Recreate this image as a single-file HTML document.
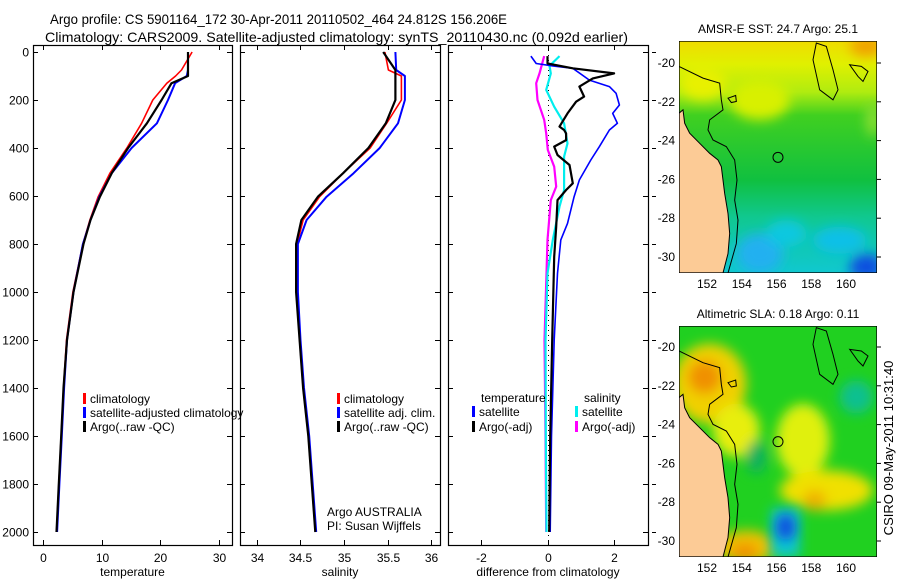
<!DOCTYPE html>
<html><head><meta charset="utf-8">
<style>
body{margin:0;background:#fff;}
#root{position:relative;width:900px;height:580px;overflow:hidden;font-family:"Liberation Sans",sans-serif;}
svg text{font-family:"Liberation Sans",sans-serif;}
</style></head>
<body>
<div id="root">
<svg id="main" width="900" height="580" viewBox="0 0 900 580">
<text x="50" y="24" font-size="14" textLength="457" lengthAdjust="spacingAndGlyphs">Argo profile: CS 5901164_172 30-Apr-2011 20110502_464 24.812S 156.206E</text>
<text x="45" y="42" font-size="14" textLength="583" lengthAdjust="spacingAndGlyphs">Climatology: CARS2009. Satellite-adjusted climatology: synTS_20110430.nc (0.092d earlier)</text>
<text transform="translate(893,448) rotate(-90)" text-anchor="middle" font-size="13">CSIRO 09-May-2011 10:31:40</text>
</svg>
<svg style="position:absolute;left:679px;top:41px" width="198" height="232" viewBox="58 124 594 694" preserveAspectRatio="none">
<defs>
<linearGradient id="g1" x1="0" y1="0" x2="0" y2="1">
<stop offset="0" stop-color="#f0dc00"/><stop offset="0.1" stop-color="#e0f000"/><stop offset="0.22" stop-color="#b0ec10"/><stop offset="0.32" stop-color="#40d020"/><stop offset="0.6" stop-color="#10c040"/><stop offset="0.76" stop-color="#10c890"/><stop offset="1" stop-color="#10c8d0"/></linearGradient>
<filter id="bl" x="-50%" y="-50%" width="200%" height="200%"><feGaussianBlur stdDeviation="18"/></filter>
<clipPath id="c1"><rect x="58" y="124" width="594" height="694"/></clipPath>
</defs>
<g clip-path="url(#c1)">
<rect x="58" y="124" width="594" height="694" fill="url(#g1)"/>
<g filter="url(#bl)">
<ellipse cx="620" cy="140" rx="50" ry="30" fill="#f0a000"/>
<ellipse cx="300" cy="300" rx="90" ry="60" fill="#d8f000"/>
<ellipse cx="130" cy="250" rx="70" ry="50" fill="#e8f000"/>
<ellipse cx="300" cy="760" rx="70" ry="60" fill="#20b0f0"/>
<ellipse cx="380" cy="700" rx="60" ry="40" fill="#10c8e0"/>
<ellipse cx="620" cy="800" rx="50" ry="40" fill="#1050e0"/>
<ellipse cx="540" cy="720" rx="80" ry="40" fill="#10c0e8"/>
<ellipse cx="640" cy="360" rx="20" ry="50" fill="#90e030"/>
</g>
<path d="M58,340 L70,330 L75,370 L90,400 L120,430 L150,460 L175,480 L185,500 L190,540 L195,580 L205,640 L210,700 L205,760 L190,818 L58,818 Z" fill="#fccb96" stroke="#000" stroke-width="3"/>
<path d="M58,200 L130,235 L180,250 L185,300 L190,330 L150,360 L145,390 L160,420 L200,440 L225,480 L232,540 L225,600 L235,660 L230,730 L205,818" fill="none" stroke="#000" stroke-width="3"/>
<path d="M470,130 L460,180 L480,270 L520,300 L535,270 L520,210 L500,140 Z" fill="none" stroke="#000" stroke-width="3"/>
<path d="M570,195 L605,200 L625,215 L610,245 L595,230 Z" fill="none" stroke="#000" stroke-width="3"/>
<path d="M205,295 L228,287 L230,305 L215,308 Z" fill="none" stroke="#000" stroke-width="3"/>
<circle cx="355" cy="472" r="15" fill="none" stroke="#000" stroke-width="3"/>
</g>
<rect x="58" y="124" width="594" height="694" fill="none" stroke="#000" stroke-width="4"/>
</svg>
<svg style="position:absolute;left:679px;top:326px" width="198" height="231" viewBox="58 107 594 693" preserveAspectRatio="none">
<defs>
<clipPath id="c2"><rect x="58" y="107" width="594" height="693"/></clipPath>
</defs>
<g clip-path="url(#c2)">
<rect x="58" y="107" width="594" height="693" fill="#20d020"/>
<g filter="url(#bl)">
<ellipse cx="150" cy="280" rx="110" ry="120" fill="#f0d000"/>
<ellipse cx="135" cy="260" rx="50" ry="50" fill="#f09000"/>
<ellipse cx="230" cy="420" rx="70" ry="80" fill="#e8ee10"/>
<ellipse cx="430" cy="450" rx="80" ry="110" fill="#e0f010"/>
<ellipse cx="500" cy="600" rx="140" ry="60" fill="#f0e000"/>
<ellipse cx="465" cy="630" rx="35" ry="30" fill="#f0b000"/>
<ellipse cx="260" cy="770" rx="90" ry="50" fill="#f0c000"/>
<ellipse cx="255" cy="785" rx="40" ry="25" fill="#f09000"/>
<ellipse cx="590" cy="320" rx="50" ry="50" fill="#10c090"/>
<ellipse cx="290" cy="500" rx="30" ry="50" fill="#10b060"/>
</g>
<rect x="335" y="655" width="85" height="145" fill="#10c8d0" filter="url(#bl)"/>
<ellipse cx="378" cy="710" rx="30" ry="40" fill="#1050e0" filter="url(#bl)"/>
<g transform="translate(0,-18)">
<path d="M58,340 L70,330 L75,370 L90,400 L120,430 L150,460 L175,480 L185,500 L190,540 L195,580 L205,640 L210,700 L205,760 L190,818 L58,818 Z" fill="#fccb96" stroke="#000" stroke-width="3"/>
<path d="M58,200 L130,235 L180,250 L185,300 L190,330 L150,360 L145,390 L160,420 L200,440 L225,480 L232,540 L225,600 L235,660 L230,730 L205,818" fill="none" stroke="#000" stroke-width="3"/>
<path d="M470,130 L460,180 L480,270 L520,300 L535,270 L520,210 L500,140 Z" fill="none" stroke="#000" stroke-width="3"/>
<path d="M570,195 L605,200 L625,215 L610,245 L595,230 Z" fill="none" stroke="#000" stroke-width="3"/>
<path d="M205,295 L228,287 L230,305 L215,308 Z" fill="none" stroke="#000" stroke-width="3"/>
<circle cx="355" cy="472" r="15" fill="none" stroke="#000" stroke-width="3"/>
</g>
</g>
<rect x="58" y="107" width="594" height="693" fill="none" stroke="#000" stroke-width="4"/>
</svg>
</div>
<script>
// ---- data ----
const depthTicks = [0,200,400,600,800,1000,1200,1400,1600,1800,2000];
const tempTicks = [0,10,20,30];
const salTicks = [34,34.5,35,35.5,36];
const diffTicks = [-2,0,2];
const mainDepths = [0,75,100,130,200,297,400,505,603,700,800,1000,1200,1400,1600,1800,2000];
const tempClim = [25.4,23.6,22.6,21.1,18.7,16.8,14.3,11.4,9.4,8.0,6.8,5.1,4.0,3.5,3.1,2.7,2.3];
const tempSat  = [24.7,24.7,24.5,22.5,21.3,19.4,15.1,11.7,9.6,8.1,6.8,5.2,4.1,3.6,3.2,2.8,2.4];
const tempArgo = [24.7,24.7,24.7,21.9,20.2,17.7,14.5,11.7,9.7,8.1,6.9,5.2,4.1,3.5,3.1,2.7,2.3];
const salClim = [35.47,35.51,35.66,35.66,35.66,35.49,35.30,34.99,34.72,34.53,34.46,34.46,34.49,34.53,34.59,34.63,34.67];
const salSat  = [35.59,35.60,35.70,35.70,35.70,35.62,35.41,35.11,34.80,34.57,34.47,34.47,34.50,34.54,34.60,34.64,34.68];
const salArgo = [35.45,35.59,35.59,35.59,35.59,35.48,35.28,34.99,34.70,34.51,34.45,34.45,34.49,34.53,34.59,34.63,34.67];
const dTempArgoDepth = [17,48,68,89,110,144,186,207,256,311,325,339,367,394,429,471,547,575,617,728,853,1200,1600,2000];
const dTempArgo      = [0,0,0.76,2.0,1.36,0.96,1.1,0.86,0.6,0.36,0.5,0.56,0.56,0.2,0.3,0.66,0.76,0.56,0.3,0.26,0.2,0.14,0.08,0.05];
const dTempSatDepth = [17,48,58,68,117,144,172,221,256,297,325,394,450,533,603,714,783,922,1200,1600,2000];
const dTempSat      = [-0.5,-0.34,0.16,0.76,1.26,1.86,2.06,2.16,1.96,2.1,1.86,1.56,1.3,0.96,0.8,0.6,0.4,0.3,0.2,0.12,0.08];
const dSalSatDepth = [17,58,89,158,228,297,381,436,575,644,783,922,1200,1600,2000];
const dSalSat      = [0.36,0.06,0.1,-0.04,0.2,0.5,0.6,0.5,0.5,0.36,0.16,0,-0.06,-0.05,-0.03];
const dSalArgoDepth = [17,89,130,200,283,339,408,478,561,617,783,1061,1200,1600,2000];
const dSalArgo      = [-0.1,-0.24,-0.34,-0.3,-0.1,-0.04,0.01,0.2,0.26,0.1,0,-0.06,-0.09,-0.06,-0.04];

const NS='http://www.w3.org/2000/svg';
const svg=document.getElementById('main');
function mk(tag,attrs,parent){const e=document.createElementNS(NS,tag);for(const k in attrs)e.setAttribute(k,attrs[k]);(parent||svg).appendChild(e);return e;}
const Y0=52, PX=0.24;
function yS(d){return Y0+d*PX;}
function makeX(x0,x1,v0,v1){return v=>x0+(v-v0)/(v1-v0)*(x1-x0);}
const panels=[
 {name:'temperature',x0:33,x1:232,v0:-1.7,v1:32.2,ticks:tempTicks,label:'temperature'},
 {name:'salinity',x0:240,x1:440,v0:33.805,v1:36.103,ticks:salTicks,label:'salinity'},
 {name:'difference',x0:448,x1:648,v0:-2.99,v1:3.02,ticks:diffTicks,label:'difference from climatology'}
];
const TOP=45, BOT=545;
panels.forEach((p,i)=>{
  p.xs=makeX(p.x0,p.x1,p.v0,p.v1);
  const g=mk('g',{});
  
  
  const r=mk('rect',{x:p.x0+0.5,y:TOP+0.5,width:p.x1-p.x0,height:BOT-TOP,fill:'none',stroke:'#000','stroke-width':1.2},g);
  
  
  p.ticks.forEach(t=>{
    const x=Math.round(p.xs(t))+0.5;
    mk('line',{x1:x,x2:x,y1:BOT,y2:BOT-5,stroke:'#000'},g);
    mk('line',{x1:x,x2:x,y1:TOP,y2:TOP+5,stroke:'#000'},g);
    const tl=mk('text',{x:x,y:BOT+17,'text-anchor':'middle','font-size':12},g);
    tl.textContent=t;
    
    
  });
  depthTicks.forEach(d=>{
    const y=Math.round(yS(d))+0.5;
    mk('line',{x1:p.x0,x2:p.x0+5,y1:y,y2:y,stroke:'#000'},g);
    mk('line',{x1:p.x1-5,x2:p.x1,y1:y,y2:y,stroke:'#000'},g);
    if(i===2) mk('line',{x1:p.x1+4,x2:p.x1+8,y1:y,y2:y,stroke:'#000'},g);
    if(i===0){const tl=mk('text',{x:p.x0-4,y:y+4,'text-anchor':'end','font-size':12},g);tl.textContent=d;
      
      }
  });
  const xl=mk('text',{x:(p.x0+p.x1)/2,y:BOT+31,'text-anchor':'middle','font-size':12},g);
  xl.textContent=p.label;
  
  
});
function line(p,depths,vals,color,w,name){
  const pts=vals.map((v,k)=>p.xs(v).toFixed(1)+','+yS(depths[k]).toFixed(1)).join(' ');
  const e=mk('polyline',{points:pts,fill:'none',stroke:color,'stroke-width':w,'stroke-linejoin':'round'});
  
  
}
const P=panels;
line(P[0],mainDepths,tempClim,'#f00',1.6,'temp-climatology-line');
line(P[0],mainDepths,tempSat,'#00f',2,'temp-satellite-line');
line(P[0],mainDepths,tempArgo,'#000',2.2,'temp-argo-line');
line(P[1],mainDepths,salClim,'#f00',1.6,'sal-climatology-line');
line(P[1],mainDepths,salSat,'#00f',2,'sal-satellite-line');
line(P[1],mainDepths,salArgo,'#000',2.2,'sal-argo-line');
const zx=Math.round(P[2].xs(0))+0.5;
const zl=mk('line',{x1:zx,x2:zx,y1:TOP,y2:BOT,stroke:'#000','stroke-dasharray':'1,4'});


line(P[2],dSalArgoDepth,dSalArgo,'#f0f',2.2,'diff-sal-argo-line');
line(P[2],dSalSatDepth,dSalSat,'#0ee',2.2,'diff-sal-satellite-line');
line(P[2],dTempSatDepth,dTempSat,'#00f',1.6,'diff-temp-satellite-line');
line(P[2],dTempArgoDepth,dTempArgo,'#000',2.2,'diff-temp-argo-line');
function legend(x,y,color,txt,name){
  const g=mk('g',{});
  
  
  if(color) mk('rect',{x:x,y:y-10,width:3,height:11,fill:color},g);
  const t=mk('text',{x:x+7,y:y,'font-size':12},g);t.textContent=txt;
}
legend(83,403,'#f00','climatology','legend-climatology');
legend(83,417,'#00f','satellite-adjusted climatology','legend-satellite-adjusted');
legend(83,431,'#000','Argo(..raw -QC)','legend-argo');
legend(337,403,'#f00','climatology','legend-sal-climatology');
legend(337,417,'#00f','satellite adj. clim.','legend-sal-satellite');
legend(337,431,'#000','Argo(..raw -QC)','legend-sal-argo');
legend(474,402,null,'temperature','legend-temperature-header');
legend(577,402,null,'salinity','legend-salinity-header');
legend(472,416,'#00f','satellite','legend-diff-temp-satellite');
legend(472,431,'#000','Argo(-adj)','legend-diff-temp-argo');
legend(575,416,'#0ee','satellite','legend-diff-sal-satellite');
legend(575,431,'#f0f','Argo(-adj)','legend-diff-sal-argo');
const a1=mk('text',{x:327,y:516,'font-size':12});a1.textContent='Argo AUSTRALIA';


const a2=mk('text',{x:327,y:530,'font-size':12});a2.textContent='PI: Susan Wijffels';


const mapTitles=[['AMSR-E SST: 24.7 Argo: 25.1',33,'sst-map-title'],['Altimetric SLA: 0.18 Argo: 0.11',318,'sla-map-title']];
mapTitles.forEach(m=>{const t=mk('text',{x:778,y:m[1],'text-anchor':'middle','font-size':12});t.textContent=m[0];
  
  });
const lonTicks=[152,154,156,158,160];
const latTicks=[-20,-22,-24,-26,-28,-30];
const maps=[{top:41,bot:273,lat20:63,lat30:257},{top:326,bot:557,lat20:347,lat30:541}];
maps.forEach((m,mi)=>{
  lonTicks.forEach(l=>{const x=707+(l-152)*17.375;
    mk('line',{x1:x,x2:x,y1:m.top,y2:m.top+4,stroke:'#000'});
    mk('line',{x1:x,x2:x,y1:m.bot-4,y2:m.bot,stroke:'#000'});
    const t=mk('text',{x:x,y:m.bot+15,'text-anchor':'middle','font-size':12});t.textContent=l;
    
    });
  latTicks.forEach(l=>{const y=m.lat20+(-20-l)/10*(m.lat30-m.lat20);
    mk('line',{x1:679,x2:683,y1:y,y2:y,stroke:'#000'});
    mk('line',{x1:873,x2:881,y1:y,y2:y,stroke:'#000'});
    const t=mk('text',{x:675,y:y+4,'text-anchor':'end','font-size':12});t.textContent=l;
    
    });
});
</script>
</body></html>
